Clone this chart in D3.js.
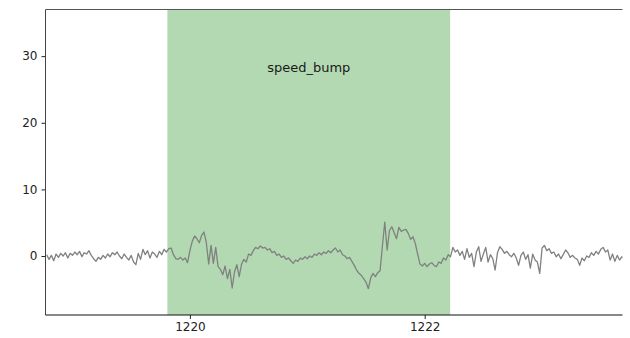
<!DOCTYPE html>
<html>
<head>
<meta charset="utf-8">
<script src="https://cdn.jsdelivr.net/npm/d3@7"></script>
<style>
  html, body { margin: 0; padding: 0; background: #fff; }
  svg { display: block; }
  text { font-family: "DejaVu Sans", sans-serif; }
</style>
</head>
<body>
<svg id="chart" width="630" height="338"></svg>
<script>
// Vertical acceleration trace sampled every 20 ms, with a labelled event window.
const sampleStart = 1218.78;
const sampleStep = 0.02;
const signal = [
  0.2, -0.5, 0.1, -0.7, 0.3, -0.2, 0.4, 0.0, 0.5, -0.3,
  0.4, 0.1, 0.6, 0.2, 0.7, -0.1, 0.5, 0.3, 0.8, 0.1,
  -0.4, -0.8, -0.2, -0.5, 0.1, -0.3, 0.3, -0.1, 0.5, 0.2,
  0.6, 0.0, -0.4, 0.3, -0.2, -0.6, 0.1, -0.9, -1.3, 0.4,
  -0.5, 1.0, 0.2, 0.8, -0.3, 0.6, 0.3, -0.2, 0.7, 0.2,
  1.0, 0.6, 1.1, 1.2, 0.2, -0.4, -0.5, -0.2, -0.6, -0.3,
  -1.0, 0.8, 2.2, 3.0, 2.6, 2.0, 3.1, 3.6, 2.0, -1.2,
  1.6, -1.1, 1.3, -1.6, -2.0, -2.8, -1.5, -3.4, -2.0, -4.8,
  -2.4, -1.3, -3.1, -1.2, -0.5, -0.9, 0.3, 0.1, 0.8, 1.3,
  1.1, 1.5, 1.2, 1.3, 0.9, 1.1, 0.5, 0.7, 0.1, 0.3,
  -0.2, 0.0, -0.5, -0.3, -0.7, -1.1, -0.6, -0.8, -0.3, -0.5,
  -0.1, -0.4, 0.0, -0.2, 0.3, 0.1, 0.5, 0.2, 0.6, 0.4,
  0.8, 0.5, 0.9, 1.2, 0.6, 0.9, 0.2, 0.0, -0.4, -0.2,
  -0.8, -1.4, -2.1, -2.6, -2.9, -3.4, -3.9, -4.9, -3.3, -2.6,
  -3.1, -2.5, -2.2, 1.5, 5.1, 0.9, 3.8, 4.4, 3.5, 2.6,
  4.3, 3.7, 3.9, 4.0, 3.4, 2.5, 2.9, 1.9, 0.3, -1.2,
  -1.5, -1.1, -1.6, -1.2, -1.0, -1.4, -1.6, -0.9, -1.1, -0.3,
  -0.6, 0.2, -0.1, 1.3, 0.6, 0.9, 0.1, 0.7, -0.5, 1.1,
  -0.2, 0.4, -1.6, 0.6, 1.4, -0.8, 0.3, 1.3, -0.9, 0.2,
  -0.4, -2.1, 0.5, 1.4, 1.0, 0.4, 0.7, 0.2, -0.1, 0.4,
  -0.3, -1.4, 0.1, 0.6, -0.5, 0.2, -1.8, 0.3, -0.6, -0.9,
  -2.6, 1.2, 1.6, 0.8, 1.1, 0.4, 0.6, -0.1, 0.3, -0.4,
  0.2, 0.9, 0.5, -0.2, 0.1, -0.3, -0.5, -1.4, -0.3, -0.7,
  0.0, -0.2, 0.5, 0.1, 0.7, 0.3, 1.0, 1.3, 0.6, 0.9,
  -0.6, 0.3, -0.8, 0.1, -0.6, -0.1, -0.4
];

// Event window
const eventLabel = "speed_bump";
const eventStart = 1219.808;
const eventEnd = 1222.217;

// Axis settings
const xDomain = [1218.77, 1223.685];
const yDomain = [-8.85, 37.0];
const xTicks = [1220, 1222];
const yTicks = [0, 10, 20, 30];

const points = signal.map((v, i) => ({ t: sampleStart + i * sampleStep, v }));

const margin = { left: 45.5, right: 7.5, top: 9.5, bottom: 23 };
const width = 630, height = 338;
const plotW = width - margin.left - margin.right;
const plotH = height - margin.top - margin.bottom;

const svg = d3.select("#chart");
const x = d3.scaleLinear().domain(xDomain).range([margin.left, margin.left + plotW]);
const y = d3.scaleLinear().domain(yDomain).range([margin.top + plotH, margin.top]);

svg.append("defs").append("clipPath").attr("id", "plot-clip")
  .append("rect")
  .attr("x", margin.left).attr("y", margin.top)
  .attr("width", plotW).attr("height", plotH);

// Shaded event window
svg.append("rect")
  .attr("x", x(eventStart))
  .attr("y", margin.top)
  .attr("width", x(eventEnd) - x(eventStart))
  .attr("height", plotH)
  .attr("fill", "#008000")
  .attr("fill-opacity", 0.3);

// Signal trace
svg.append("path")
  .datum(points)
  .attr("clip-path", "url(#plot-clip)")
  .attr("fill", "none")
  .attr("stroke", "#808080")
  .attr("stroke-width", 1.3)
  .attr("stroke-linejoin", "round")
  .attr("d", d3.line().x(d => x(d.t)).y(d => y(d.v)));

// Event label
svg.append("text")
  .attr("x", (x(eventStart) + x(eventEnd)) / 2)
  .attr("y", 72)
  .attr("text-anchor", "middle")
  .attr("font-size", 13)
  .attr("fill", "#1a1a1a")
  .text(eventLabel);

// Axes
const xAxis = d3.axisBottom(x).tickValues(xTicks).tickFormat(d3.format("d")).tickSize(4).tickPadding(3);
const yAxis = d3.axisLeft(y).tickValues(yTicks).tickFormat(d3.format("d")).tickSize(4).tickPadding(4);

const gx = svg.append("g").attr("transform", `translate(0,${margin.top + plotH})`).call(xAxis);
const gy = svg.append("g").attr("transform", `translate(${margin.left},0)`).call(yAxis);

[gx, gy].forEach(g => {
  g.select(".domain").remove();
  g.selectAll(".tick line").attr("stroke", "#222");
  g.selectAll(".tick text").attr("font-size", 12).attr("fill", "#222")
    .style("font-family", "DejaVu Sans, sans-serif");
});

// Spines: left, top, bottom
const spines = svg.append("g").attr("fill", "none").attr("stroke-width", 1);
spines.append("line")
  .attr("x1", margin.left).attr("x2", margin.left)
  .attr("y1", margin.top).attr("y2", margin.top + plotH)
  .attr("stroke", "#444");
spines.append("line")
  .attr("x1", margin.left).attr("x2", margin.left + plotW)
  .attr("y1", margin.top).attr("y2", margin.top)
  .attr("stroke", "#555");
spines.append("line")
  .attr("x1", margin.left).attr("x2", margin.left + plotW)
  .attr("y1", margin.top + plotH).attr("y2", margin.top + plotH)
  .attr("stroke", "#111");
</script>
</body>
</html>
